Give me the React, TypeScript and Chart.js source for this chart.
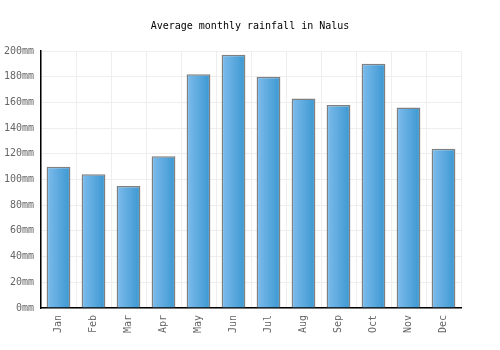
import React, { useEffect, useRef } from "react";
import { Chart, registerables } from "chart.js";

Chart.register(...registerables);

const months = ["Jan", "Feb", "Mar", "Apr", "May", "Jun", "Jul", "Aug", "Sep", "Oct", "Nov", "Dec"];
const rainfall = [110, 104, 95, 118, 182, 197, 180, 163, 158, 190, 156, 124];
const yTicksMax = 200;
const yTickStep = 20;
const titleText = "Average monthly rainfall in Nalus";

const FONT = "'DejaVu Sans Mono', monospace";

const gradientPlugin = {
  id: "barGradient",
  beforeDatasetsDraw(chart: any) {
    const ctx = chart.ctx;
    chart.getDatasetMeta(0).data.forEach((el: any) => {
      const left = el.x - el.width / 2;
      const right = el.x + el.width / 2;
      const g = ctx.createLinearGradient(left, 0, right, 0);
      g.addColorStop(0, "#7ebcec");
      g.addColorStop(1, "#3b97d1");
      el.options = Object.assign({}, el.options, { backgroundColor: g });
    });
  },
};

const titlePlugin = {
  id: "centerTitle",
  afterDraw(chart: any) {
    const ctx = chart.ctx;
    ctx.save();
    ctx.font = "10px " + FONT;
    ctx.fillStyle = "#000";
    ctx.textAlign = "center";
    ctx.textBaseline = "middle";
    ctx.fillText(titleText, chart.width / 2, 26);
    ctx.restore();
  },
};

export default function App() {
  const ref = useRef<HTMLCanvasElement>(null);
  useEffect(() => {
    if (!ref.current) return;
    const chart = new Chart(ref.current, {
      type: "bar",
      data: {
        labels: months,
        datasets: [
          {
            data: rainfall,
            backgroundColor: (c: any) => (c.dataIndex >= 0 ? "#5aaade" : "#5aaade"),
            borderColor: "#808080",
            borderWidth: 1.5,
            borderSkipped: "bottom",
            barPercentage: 0.68,
            categoryPercentage: 1,
          },
        ],
      },
      options: {
        animation: false,
        responsive: false,
        layout: { padding: { left: 0, right: 39, top: 51, bottom: 0 } },
        plugins: {
          legend: { display: false },
          tooltip: { enabled: false },
          title: { display: false },
        },
        scales: {
          x: {
            afterFit: (s: any) => {
              s.height = 42;
            },
            grid: { color: "#eeeeee", lineWidth: 1, offset: true, drawTicks: false },
            border: { color: "#000", width: 1.5 },
            ticks: {
              color: "#666",
              font: { family: FONT, size: 10 },
              maxRotation: 90,
              minRotation: 90,
              padding: 7,
            },
          },
          y: {
            min: 0,
            max: yTicksMax,
            afterFit: (s: any) => {
              s.width = 41;
            },
            grid: { color: "#eeeeee", lineWidth: 1, drawTicks: false },
            border: { color: "#000", width: 1.5 },
            ticks: {
              stepSize: yTickStep,
              color: "#666",
              font: { family: FONT, size: 10 },
              padding: 7,
              callback: (v: any) => v + "mm",
            },
          },
        },
      },
      plugins: [gradientPlugin, titlePlugin],
    });
    return () => chart.destroy();
  }, []);
  return (
    <div style={{ position: "fixed", left: 0, top: 0, width: 500, height: 350, background: "#fff" }}>
      <canvas ref={ref} width={500} height={350} style={{ width: 500, height: 350 }} />
    </div>
  );
}
